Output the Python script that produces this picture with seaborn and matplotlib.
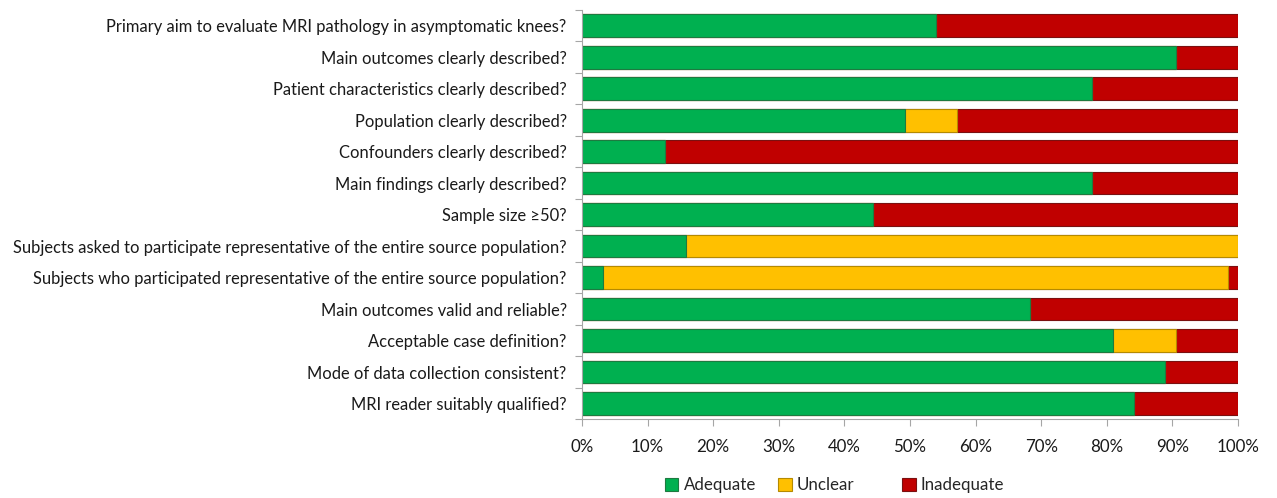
import numpy as np
import pandas as pd
import matplotlib
matplotlib.use("Agg")
import matplotlib.pyplot as plt
from matplotlib.patches import Patch
from matplotlib.ticker import FixedLocator, PercentFormatter
import seaborn as sns

questions = [
    "Primary aim to evaluate MRI pathology in asymptomatic knees?",
    "Main outcomes clearly described?",
    "Patient characteristics clearly described?",
    "Population clearly described?",
    "Confounders clearly described?",
    "Main findings clearly described?",
    "Sample size \u226550?",
    "Subjects asked to participate representative of the entire source population?",
    "Subjects who participated representative of the entire source population?",
    "Main outcomes valid and reliable?",
    "Acceptable case definition?",
    "Mode of data collection consistent?",
    "MRI reader suitably qualified?",
]
adequate = [54.0, 90.5, 77.8, 49.2, 12.7, 77.8, 44.4, 15.9, 3.2, 68.3, 81.0, 88.9, 84.1]
unclear = [0.0, 0.0, 0.0, 7.9, 0.0, 0.0, 0.0, 84.1, 95.2, 0.0, 9.5, 0.0, 0.0]
inadequate = [46.0, 9.5, 22.2, 42.9, 87.3, 22.2, 55.6, 0.0, 1.6, 31.7, 9.5, 11.1, 15.9]

categories = ["Adequate", "Unclear", "Inadequate"]
fills = {"Adequate": "#00B050", "Unclear": "#FFC000", "Inadequate": "#C00000"}
edges = {"Adequate": "#1E7A40", "Unclear": "#B58A00", "Inadequate": "#7A1010"}

df = pd.DataFrame({"question": questions, "Adequate": adequate,
                   "Unclear": unclear, "Inadequate": inadequate})
# cumulative right edge of each segment
df["cum_Adequate"] = df["Adequate"]
df["cum_Unclear"] = df["Adequate"] + df["Unclear"]
df["cum_Inadequate"] = df["cum_Unclear"] + df["Inadequate"]

sns.set_theme(style="white")
plt.rcParams["font.family"] = ["Lato", "DejaVu Sans"]

fig = plt.figure(figsize=(12.77, 4.98), dpi=100)
ax = fig.add_axes([0.4557, 0.158, 0.5138, 0.822])

# draw the stacked segments back-to-front so each layer covers the previous
for cat in reversed(categories):
    sns.barplot(data=df, y="question", x=f"cum_{cat}", orient="h",
                color=fills[cat], saturation=1, width=0.72,
                edgecolor=edges[cat], linewidth=0.8, ax=ax)

ax.set_xlim(0, 100)
ax.set_ylim(len(questions) - 0.5, -0.5)
ax.xaxis.set_major_locator(FixedLocator(np.arange(0, 101, 10)))
ax.xaxis.set_major_formatter(PercentFormatter(100, decimals=0))
ax.set_xlabel("")
ax.set_ylabel("")

# category separators on the left spine
ax.yaxis.set_minor_locator(FixedLocator(np.arange(-0.5, len(questions), 1)))
ax.tick_params(axis="y", which="major", length=0, pad=11, labelsize=11.9,
               labelcolor="#1a1a1a")
ax.tick_params(axis="y", which="minor", length=5, width=0.8, color="#A6A6A6",
               left=True)
ax.tick_params(axis="x", which="major", length=5, width=0.8, color="#A6A6A6",
               bottom=True, labelsize=12.2, labelcolor="#1a1a1a", pad=9)

for side in ["top", "right"]:
    ax.spines[side].set_visible(False)
for side in ["left", "bottom"]:
    ax.spines[side].set_color("#A6A6A6")
    ax.spines[side].set_linewidth(0.8)

# one legend entry per category, spaced along the bottom
legend_x = [0.5207, 0.6092, 0.7063]
for cat, lx in zip(categories, legend_x):
    h = Patch(facecolor=fills[cat], edgecolor=edges[cat], linewidth=0.8, label=cat)
    fig.legend(handles=[h], loc="center left", bbox_to_anchor=(lx, 0.026),
               frameon=False, fontsize=12.2, handlelength=0.8, handleheight=0.8,
               handletextpad=0.3, borderpad=0, borderaxespad=0)

fig.savefig("out.png", dpi=100)
